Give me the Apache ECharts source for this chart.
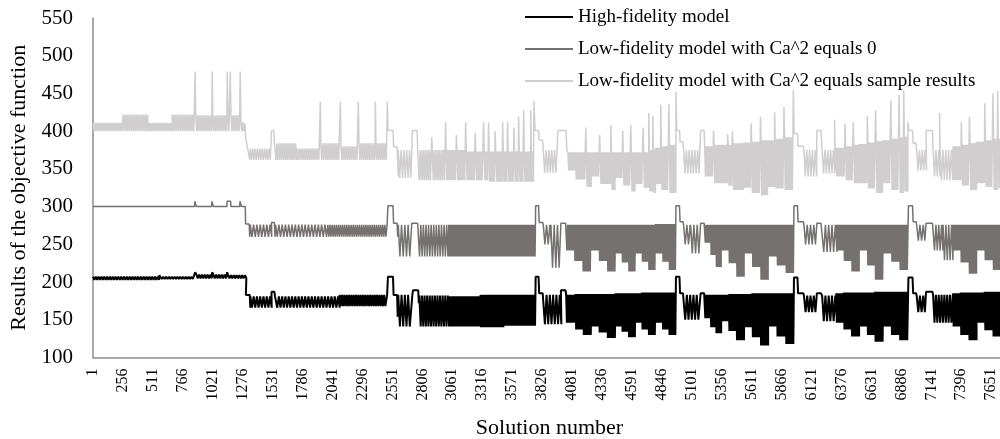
<!DOCTYPE html>
<html>
<head>
<meta charset="utf-8">
<title>Objective function by solution</title>
<script src="https://cdn.jsdelivr.net/npm/echarts@6/dist/echarts.min.js"></script>
<style>
  html, body { margin: 0; padding: 0; background: #fff; }
  #main { width: 1000px; height: 439px; }
</style>
</head>
<body>
<div id="main"></div>
<script>
// values, in solution numbers
// [s, value] is a single point, [s0, s1, high, low, step] is a stretch where the line swings between high and low
var seriesNames = ['High-fidelity model', 'Low-fidelity model with Ca^2 equals 0', 'Low-fidelity model with Ca^2 equals sample results'];
var tickLabels = [1, 256, 511, 766, 1021, 1276, 1531, 1786, 2041, 2296, 2551, 2806, 3061, 3316, 3571, 3826,
	4081, 4336, 4591, 4846, 5101, 5356, 5611, 5866, 6121, 6376, 6631, 6886, 7141, 7396, 7651];

var highFidelity = [
	[0, 560, 207, 203, 24], [565, 209], [575, 860, 207, 204, 24], [870, 213], [880, 1010, 210, 205, 24], [1015, 213],
	[1025, 1140, 210, 205, 24], [1143, 213], [1150, 1297, 209, 205, 24],
	[1300, 206], [1302, 183], [1335, 183], [1340, 166],
	[1340, 1510, 181, 166, 28], [1515, 166], [1520, 187], [1545, 187], [1550, 181],
	[1555, 2100, 181, 166, 28], [2100, 2500, 183, 168, 20],
	[2505, 183], [2512, 207], [2555, 207], [2560, 183], [2590, 183], [2595, 154],
	[2600, 2700, 183, 141, 28], [2720, 183], [2725, 189], [2770, 189], [2775, 172],
	[2780, 3030, 182, 141, 22], [3030, 3300, 181, 141, 12], [3300, 3500, 183, 140, 10], [3500, 3765, 183, 142, 10],
	[3770, 207], [3795, 207], [3800, 185], [3830, 185],
	[3835, 3980, 183, 144, 28], [3985, 189], [4025, 189],
	[4030, 4110, 183, 146, 12], [4110, 4175, 184, 137, 10], [4175, 4240, 184, 130, 10],
	[4240, 4310, 184, 141, 10], [4310, 4380, 184, 133, 10], [4380, 4450, 184, 126, 10],
	[4450, 4505, 185, 141, 10], [4505, 4560, 185, 134, 10], [4560, 4620, 185, 127, 10],
	[4620, 4675, 185, 146, 10], [4675, 4730, 186, 137, 10], [4730, 4790, 186, 130, 10],
	[4790, 4850, 186, 146, 10], [4850, 4905, 186, 137, 10], [4905, 4960, 186, 130, 10],
	[4965, 207], [4995, 207], [5000, 185], [5025, 185],
	[5030, 5170, 183, 150, 28], [5175, 185], [5205, 185],
	[5210, 5260, 183, 152, 10], [5260, 5305, 183, 140, 10], [5305, 5350, 183, 132, 10],
	[5350, 5415, 183, 148, 10], [5415, 5480, 184, 135, 10], [5480, 5545, 184, 123, 10],
	[5545, 5615, 184, 140, 10], [5615, 5685, 185, 127, 10], [5685, 5750, 185, 116, 10],
	[5750, 5825, 185, 141, 10], [5825, 5900, 185, 128, 10], [5900, 5965, 185, 118, 10],
	[5970, 206], [6000, 206], [6005, 185], [6050, 185],
	[6055, 6160, 182, 160, 28], [6165, 185], [6200, 185], [6210, 6330, 182, 148, 28],
	[6330, 6395, 185, 146, 10], [6395, 6460, 186, 137, 10], [6460, 6525, 186, 128, 10],
	[6525, 6595, 186, 141, 10], [6595, 6660, 186, 130, 10], [6660, 6730, 187, 121, 10],
	[6730, 6800, 187, 141, 10], [6800, 6870, 187, 130, 10], [6870, 6940, 187, 123, 10],
	[6945, 206], [6980, 206], [6985, 185], [7010, 185],
	[7015, 7090, 182, 160, 28], [7095, 187], [7150, 187],
	[7155, 7325, 183, 146, 24],
	[7325, 7390, 185, 141, 10], [7390, 7460, 186, 130, 10], [7460, 7525, 186, 123, 10],
	[7525, 7595, 186, 146, 10], [7595, 7665, 187, 136, 10], [7665, 7740, 187, 128, 10]
];

var lowFidelityZero = [
	[0, 300], [865, 300], [868, 307], [878, 307], [880, 300], [1010, 300], [1013, 307], [1022, 307], [1025, 300],
	[1140, 300], [1142, 307], [1172, 307], [1175, 300], [1250, 300], [1252, 307], [1262, 307], [1265, 300], [1297, 300],
	[1300, 277], [1330, 277], [1335, 260],
	[1340, 1515, 276, 260, 28], [1520, 279], [1545, 279], [1550, 260],
	[1555, 2000, 276, 260, 28], [2000, 2500, 276, 260, 18],
	[2505, 276], [2512, 301], [2555, 301], [2560, 278], [2590, 278], [2595, 260],
	[2600, 2700, 276, 234, 28], [2715, 278], [2765, 278],
	[2770, 3030, 276, 234, 22], [3030, 3765, 276, 234, 10],
	[3770, 301], [3795, 301], [3800, 279], [3830, 279],
	[3835, 3900, 276, 250, 28], [3900, 3975, 276, 219, 28], [3985, 278], [4025, 278],
	[4030, 4100, 276, 242, 12], [4100, 4170, 276, 228, 10], [4170, 4240, 276, 214, 10],
	[4240, 4310, 276, 242, 10], [4310, 4380, 276, 228, 10], [4380, 4450, 276, 214, 10],
	[4450, 4505, 276, 238, 10], [4505, 4560, 276, 226, 10], [4560, 4620, 276, 214, 10],
	[4620, 4675, 276, 238, 10], [4675, 4730, 276, 227, 10], [4730, 4790, 276, 216, 10],
	[4790, 4850, 277, 238, 10], [4850, 4905, 277, 227, 10], [4905, 4960, 277, 216, 10],
	[4965, 301], [4995, 301], [5000, 280], [5025, 280],
	[5030, 5090, 276, 250, 28], [5090, 5170, 276, 238, 28], [5175, 278], [5205, 278],
	[5210, 5260, 276, 252, 10], [5260, 5305, 276, 236, 10], [5305, 5350, 276, 220, 10],
	[5350, 5415, 276, 242, 10], [5415, 5480, 276, 225, 10], [5480, 5545, 276, 207, 10],
	[5545, 5615, 276, 238, 10], [5615, 5685, 276, 220, 10], [5685, 5750, 276, 203, 10],
	[5750, 5825, 276, 234, 10], [5825, 5900, 276, 222, 10], [5900, 5965, 276, 212, 10],
	[5970, 301], [6000, 301], [6005, 280], [6050, 280],
	[6055, 6160, 276, 250, 28], [6165, 278], [6200, 278], [6210, 6330, 276, 240, 28],
	[6330, 6395, 276, 242, 10], [6395, 6460, 276, 228, 10], [6460, 6525, 276, 214, 10],
	[6525, 6595, 276, 242, 10], [6595, 6660, 276, 222, 10], [6660, 6730, 276, 203, 10],
	[6730, 6800, 276, 238, 10], [6800, 6870, 276, 227, 10], [6870, 6940, 276, 216, 10],
	[6945, 301], [6980, 301], [6985, 280], [7010, 280],
	[7015, 7090, 276, 255, 28], [7095, 278], [7150, 278],
	[7155, 7240, 276, 242, 24], [7240, 7325, 276, 229, 24],
	[7325, 7390, 276, 242, 10], [7390, 7460, 276, 226, 10], [7460, 7525, 276, 211, 10],
	[7525, 7595, 276, 242, 10], [7595, 7665, 276, 229, 10], [7665, 7740, 276, 216, 10]
];

var lowFidelitySample = [
	[0, 256, 411, 400, 16], [256, 478, 422, 400, 16], [478, 674, 411, 400, 16], [674, 865, 422, 400, 16],
	[870, 479], [875, 1010, 421, 400, 16], [1015, 479], [1020, 1140, 421, 400, 16], [1143, 479],
	[1150, 1165, 421, 400, 16], [1169, 479], [1175, 1250, 421, 400, 16], [1254, 479], [1260, 1290, 412, 400, 16],
	[1295, 410], [1300, 391], [1315, 391], [1320, 375], [1330, 375], [1335, 362],
	[1340, 1510, 377, 362, 20], [1520, 401], [1540, 401], [1545, 384],
	[1550, 1740, 384, 362, 16], [1740, 1930, 377, 362, 16], [1936, 439], [1940, 2100, 384, 362, 16], [2107, 439],
	[2112, 2255, 380, 362, 16], [2260, 439], [2265, 2400, 384, 362, 16], [2405, 439], [2410, 2500, 384, 362, 16], [2507, 439],
	[2512, 401], [2555, 401], [2560, 379], [2590, 379], [2600, 340],
	[2600, 2700, 375, 338, 24], [2720, 401], [2760, 401], [2765, 375],
	[2770, 2880, 375, 335, 16], [2885, 392], [2890, 3000, 375, 335, 16], [3003, 412], [3008, 3090, 375, 335, 12], [3095, 395],
	[3100, 3170, 375, 335, 12], [3174, 412],
	[3180, 3250, 373, 335, 12], [3255, 398], [3260, 3320, 373, 335, 12], [3327, 412], [3332, 3365, 373, 335, 12], [3369, 412],
	[3374, 3420, 373, 333, 12], [3425, 400], [3430, 3485, 373, 333, 12], [3489, 412], [3494, 3525, 373, 333, 12], [3531, 412],
	[3536, 3580, 373, 333, 12], [3585, 405], [3590, 3620, 373, 333, 12], [3625, 419], [3630, 3662, 373, 333, 12], [3668, 428],
	[3673, 3725, 373, 333, 12], [3728, 428], [3733, 3750, 373, 333, 12], [3755, 440],
	[3765, 401], [3795, 401], [3800, 388], [3830, 388],
	[3835, 3950, 375, 345, 24], [3960, 401], [4030, 401], [4035, 375],
	[4045, 4110, 372, 348, 12], [4110, 4190, 372, 336, 12], [4197, 405], [4202, 4240, 372, 326, 12],
	[4240, 4310, 372, 340, 12], [4315, 395], [4320, 4405, 372, 330, 12], [4410, 408], [4415, 4450, 372, 322, 12],
	[4450, 4508, 372, 338, 12], [4512, 401], [4516, 4575, 372, 328, 12], [4580, 408], [4585, 4620, 372, 320, 12],
	[4620, 4680, 372, 330, 12], [4685, 405], [4690, 4730, 372, 325, 12], [4734, 424], [4738, 4765, 375, 320, 12], [4768, 420], [4772, 4790, 375, 318, 12],
	[4790, 4832, 378, 330, 12], [4836, 435], [4840, 4900, 380, 322, 12], [4905, 436], [4910, 4960, 382, 318, 12], [4965, 452],
	[4972, 401], [4995, 401], [5000, 386], [5025, 386],
	[5030, 5170, 375, 344, 24], [5175, 401], [5205, 401],
	[5210, 5280, 380, 340, 12], [5285, 401], [5290, 5350, 382, 331, 12],
	[5350, 5400, 382, 331, 12], [5405, 396], [5410, 5440, 382, 328, 12], [5445, 400], [5450, 5545, 384, 322, 12],
	[5545, 5600, 385, 325, 12], [5605, 410], [5610, 5680, 386, 318, 12], [5685, 419], [5690, 5750, 388, 315, 12],
	[5750, 5800, 388, 326, 12], [5805, 425], [5810, 5880, 390, 324, 12], [5885, 432], [5890, 5960, 392, 322, 12], [5965, 455],
	[5972, 397], [6000, 397], [6005, 380], [6050, 380],
	[6055, 6160, 375, 340, 24], [6165, 401], [6200, 401], [6210, 6310, 375, 344, 24], [6316, 415], [6320, 6330, 375, 348, 12],
	[6330, 6400, 378, 340, 12], [6405, 410], [6410, 6470, 380, 335, 12], [6475, 412], [6480, 6525, 382, 331, 12],
	[6525, 6590, 383, 331, 12], [6595, 420], [6600, 6660, 385, 324, 12], [6665, 428], [6670, 6730, 387, 318, 12],
	[6730, 6790, 388, 331, 12], [6795, 441], [6800, 6860, 390, 322, 12], [6865, 448], [6870, 6900, 392, 318, 12], [6905, 454], [6910, 6935, 393, 320, 12],
	[6940, 412], [6950, 401], [6980, 401], [6985, 384], [7010, 384], [7015, 375],
	[7015, 7090, 375, 348, 24], [7095, 401], [7150, 401],
	[7155, 7205, 375, 340, 24], [7210, 424], [7215, 7325, 375, 335, 24],
	[7325, 7390, 380, 335, 12], [7395, 412], [7400, 7460, 382, 328, 12], [7465, 419], [7470, 7525, 384, 322, 12],
	[7525, 7590, 386, 331, 12], [7595, 437], [7600, 7660, 388, 326, 12], [7665, 450], [7670, 7700, 390, 322, 12], [7705, 454], [7710, 7740, 390, 324, 12]
];

function buildLine(pieces) {
	var out = [];
	pieces.forEach(function(p) {
		if (p.length === 2) {
			out.push(p);
			return;
		}
		for (var s = p[0]; s < p[1]; s += p[4]) {
			out.push([s, p[2]]);
			out.push([s + p[4] / 2, p[3]]);
		}
	});
	return out;
}

var serif = 'Liberation Serif';
var myChart = echarts.init(document.getElementById('main'));
var option = {
	animation: false,
	grid: { left: 93, right: -6, top: 18, bottom: 81.5, outerBoundsMode: 'none' },
	legend: {
		orient: 'vertical',
		left: 520,
		top: 2,
		itemWidth: 48,
		itemHeight: 2,
		itemGap: 12,
		icon: 'rect',
		textStyle: { fontFamily: serif, fontSize: 19, color: '#000', lineHeight: 20 },
		data: seriesNames
	},
	xAxis: {
		type: 'value',
		min: 0,
		max: 7776,
		interval: 255,
		name: 'Solution number',
		nameLocation: 'middle',
		nameGap: 60,
		nameTextStyle: { fontFamily: serif, fontSize: 22, color: '#000' },
		axisLine: { show: true, lineStyle: { color: '#8c8c8c', width: 1.5 } },
		axisTick: { show: false },
		splitLine: { show: false },
		axisLabel: {
			rotate: 90,
			margin: 11,
			fontFamily: serif,
			fontSize: 16,
			color: '#000',
			formatter: function(v) {
				return tickLabels.indexOf(v + 1) >= 0 ? String(v + 1) : '';
			}
		}
	},
	yAxis: {
		type: 'value',
		min: 100,
		max: 550,
		interval: 50,
		name: 'Results of the objective function',
		nameLocation: 'middle',
		nameGap: 63,
		nameTextStyle: { fontFamily: serif, fontSize: 22, color: '#000' },
		axisLine: { show: true, lineStyle: { color: '#8c8c8c', width: 1.5 } },
		axisTick: { show: false },
		splitLine: { show: false },
		axisLabel: { margin: 20, fontFamily: serif, fontSize: 21, color: '#000' }
	},
	series: [{
		name: seriesNames[0],
		type: 'line',
		symbol: 'none',
		lineStyle: { color: '#000000', width: 2 },
		itemStyle: { color: '#000000' },
		data: buildLine(highFidelity)
	}, {
		name: seriesNames[1],
		type: 'line',
		symbol: 'none',
		lineStyle: { color: '#767171', width: 1.5 },
		itemStyle: { color: '#767171' },
		data: buildLine(lowFidelityZero)
	}, {
		name: seriesNames[2],
		type: 'line',
		symbol: 'none',
		lineStyle: { color: '#d0cece', width: 1.5 },
		itemStyle: { color: '#d0cece' },
		data: buildLine(lowFidelitySample)
	}]
};
myChart.setOption(option);
</script>
</body>
</html>
